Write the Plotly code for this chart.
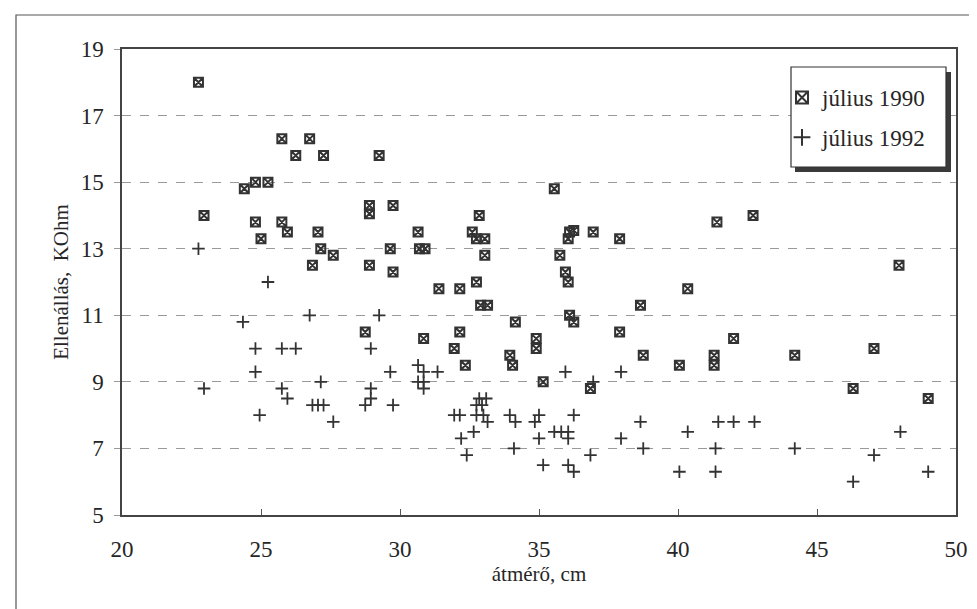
import plotly.graph_objects as go

# július 1990 (squares)
x_1990 = [22.75, 22.95, 24.4, 24.8, 25.25, 24.8, 25.0, 25.75, 25.75, 25.95, 26.25, 26.75, 26.85,
          27.05, 27.15, 27.25, 27.6, 28.75, 28.9, 28.9, 28.9, 29.25, 29.75, 29.65, 29.75, 30.65,
          30.7, 30.9, 30.85, 31.4, 31.95, 32.15, 32.15, 32.35, 32.6, 32.75, 33.05, 32.85, 32.75,
          33.05, 32.9, 33.15, 33.95, 34.05, 34.15, 34.9, 34.9, 35.15, 35.55, 35.75, 35.95, 36.05,
          36.05, 36.1, 36.25, 36.1, 36.25, 36.85, 36.95, 37.9, 37.9, 38.65, 38.75, 40.05, 40.35,
          41.3, 41.3, 41.4, 42.0, 42.7, 44.2, 46.3, 47.05, 47.95, 49.0]
y_1990 = [18.0, 14.0, 14.8, 15.0, 15.0, 13.8, 13.3, 16.3, 13.8, 13.5, 15.8, 16.3, 12.5,
          13.5, 13.0, 15.8, 12.8, 10.5, 14.3, 14.05, 12.5, 15.8, 14.3, 13.0, 12.3, 13.5,
          13.0, 13.0, 10.3, 11.8, 10.0, 11.8, 10.5, 9.5, 13.5, 13.3, 13.3, 14.0, 12.0,
          12.8, 11.3, 11.3, 9.8, 9.5, 10.8, 10.3, 10.0, 9.0, 14.8, 12.8, 12.3, 12.0,
          13.3, 13.5, 13.55, 11.0, 10.8, 8.8, 13.5, 13.3, 10.5, 11.3, 9.8, 9.5, 11.8,
          9.8, 9.5, 13.8, 10.3, 14.0, 9.8, 8.8, 10.0, 12.5, 8.5]

# július 1992 (plus signs)
x_1992 = [22.75, 22.95, 24.35, 24.8, 24.8, 24.95, 25.25, 25.75, 25.75, 25.95, 26.25, 26.75, 26.85,
          27.05, 27.15, 27.25, 27.6, 28.75, 28.95, 28.95, 28.95, 29.25, 29.65, 29.75, 30.65, 30.65,
          30.85, 30.85, 30.85, 31.35, 31.95, 32.15, 32.2, 32.4, 32.65, 32.75, 32.75, 32.85, 32.95,
          33.0, 33.1, 33.15, 33.95, 34.1, 34.15, 34.85, 35.0, 35.0, 35.15, 35.55, 35.8, 35.95,
          36.05, 36.05, 36.05, 36.25, 36.25, 36.85, 36.95, 37.95, 37.95, 38.65, 38.75, 40.05,
          40.35, 41.35, 41.35, 41.45, 42.0, 42.75, 44.2, 46.3, 47.05, 48.0, 49.0]
y_1992 = [13.0, 8.8, 10.8, 10.0, 9.3, 8.0, 12.0, 10.0, 8.8, 8.5, 10.0, 11.0, 8.3,
          8.3, 9.0, 8.3, 7.8, 8.3, 8.5, 8.8, 10.0, 11.0, 9.3, 8.3, 9.5, 9.0,
          9.3, 9.0, 8.8, 9.3, 8.0, 8.0, 7.3, 6.8, 7.5, 8.0, 8.3, 8.5, 8.3,
          8.0, 8.5, 7.8, 8.0, 7.0, 7.8, 7.8, 8.0, 7.3, 6.5, 7.5, 7.5, 9.3,
          7.5, 7.3, 6.5, 8.0, 6.3, 6.8, 9.0, 9.3, 7.3, 7.8, 7.0, 6.3,
          7.5, 7.0, 6.3, 7.8, 7.8, 7.8, 7.0, 6.0, 6.8, 7.5, 6.3]

x_ticks = [20, 25, 30, 35, 40, 45, 50]
y_ticks = [5, 7, 9, 11, 13, 15, 17, 19]

FONT = "Liberation Serif"
INK = "#262626"

fig = go.Figure()
fig.add_trace(go.Scatter(
    x=x_1990, y=y_1990, mode="markers", name="július 1990", legendgroup="a",
    marker=dict(symbol="square-x-open", size=9, color="#333333", line=dict(width=2, color="#333333")),
))
fig.add_trace(go.Scatter(
    x=x_1992, y=y_1992, mode="markers", name="július 1992", legendgroup="b",
    marker=dict(symbol="cross-thin-open", size=9, color="#333333", line=dict(width=1.8, color="#333333")),
))

W, H = 977, 609
L, R, T, B = 114, 29, 41, 102
pw, ph = W - L - R, H - T - B

def px_to_paper(px, py):
    return (px - L) / pw, (H - B - py) / ph

# legend box and its shadow
bx0, by0 = px_to_paper(783, 159)
bx1, by1 = px_to_paper(938, 59)
sx0, sy0 = px_to_paper(787, 164)
sx1, sy1 = px_to_paper(943, 64)
# outer frame
fx0, fy0 = px_to_paper(8, 603)
fx1, fy1 = px_to_paper(970, 7)

lx, ly = px_to_paper(774, 68)

fig.update_layout(
    width=W, height=H,
    margin=dict(l=L, r=R, t=T, b=B),
    paper_bgcolor="white", plot_bgcolor="white",
    font=dict(family=FONT, color=INK, size=22),
    showlegend=True,
    legend=dict(
        x=lx, y=ly, xanchor="left", yanchor="top",
        bgcolor="rgba(0,0,0,0)", borderwidth=0,
        font=dict(family=FONT, size=23, color=INK),
        tracegroupgap=7, itemsizing="constant",
    ),
    shapes=[
        dict(type="rect", xref="paper", yref="paper", x0=sx0, y0=sy0, x1=sx1, y1=sy1,
             fillcolor="#3a3a3a", line=dict(width=0), layer="above"),
        dict(type="rect", xref="paper", yref="paper", x0=bx0, y0=by0, x1=bx1, y1=by1,
             fillcolor="white", line=dict(color="#333333", width=1.2), layer="above"),
        dict(type="rect", xref="paper", yref="paper", x0=fx0, y0=fy0, x1=fx1, y1=fy1,
             line=dict(color="#555555", width=1.2), fillcolor="rgba(0,0,0,0)", layer="below"),
    ],
    xaxis=dict(
        range=[20, 50], tickvals=x_ticks, ticktext=[str(v) for v in x_ticks],
        showgrid=False, zeroline=False,
        ticks="inside", ticklen=6, tickcolor="#555555",
        showline=True, linecolor="#444444", linewidth=1.5, mirror=True,
        ticklabelstandoff=13,
        title=dict(text="átmérő, cm", font=dict(family=FONT, size=21, color=INK), standoff=4),
        tickfont=dict(family=FONT, size=23, color=INK),
    ),
    yaxis=dict(
        range=[5, 19], tickvals=y_ticks, ticktext=[str(v) for v in y_ticks],
        showgrid=True, gridcolor="#9a9a9a", griddash="dash", gridwidth=1,
        zeroline=False,
        ticks="outside", ticklen=6, tickcolor="#9a9a9a",
        showline=True, linecolor="#444444", linewidth=1.5, mirror=True,
        ticklabelstandoff=6,
        title=dict(text="Ellenállás,  KOhm", font=dict(family=FONT, size=21, color=INK), standoff=6),
        tickfont=dict(family=FONT, size=23, color=INK),
    ),
)

fig.write_html("out.html")
